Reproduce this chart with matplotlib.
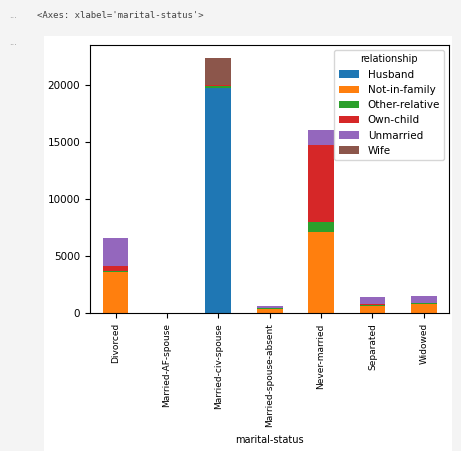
import pandas as pd
import matplotlib.pyplot as plt

statuses = ['Divorced', 'Married-AF-spouse', 'Married-civ-spouse', 'Married-spouse-absent',
            'Never-married', 'Separated', 'Widowed']
husband = [0, 14, 19716, 0, 0, 0, 0]
not_in_family = [3600, 0, 17, 380, 7100, 620, 850]
other_relative = [150, 1, 150, 60, 900, 100, 80]
own_child = [430, 1, 100, 60, 6750, 140, 20]
unmarried = [2450, 0, 0, 120, 1300, 590, 560]
wife = [0, 10, 2390, 0, 0, 0, 0]

df = pd.DataFrame({'Husband': husband, 'Not-in-family': not_in_family,
                   'Other-relative': other_relative, 'Own-child': own_child,
                   'Unmarried': unmarried, 'Wife': wife}, index=statuses)
df.index.name = 'marital-status'
df.columns.name = 'relationship'

fig = plt.figure(figsize=(4.61, 4.51), dpi=100)
fig.patch.set_facecolor('#f4f4f4')
fig.text(0.08, 0.965, "<Axes: xlabel='marital-status'>", family='DejaVu Sans Mono',
         fontsize=6.5, color='#444444', va='center')
fig.text(0.02, 0.965, '...', fontsize=6, color='#888888', va='center')
fig.text(0.02, 0.905, '...', fontsize=6, color='#888888', va='center')
# white output panel
panel = fig.add_axes([0.095, 0.0, 0.885, 0.92])
panel.set_facecolor('white')
panel.set_xticks([]); panel.set_yticks([])
for s in panel.spines.values():
    s.set_visible(False)

ax = fig.add_axes([0.195, 0.305, 0.78, 0.595])
df.plot(kind='bar', stacked=True, ax=ax)
ax.set_ylim(0, 23500)
ax.tick_params(axis='y', labelsize=7.5)
ax.tick_params(axis='x', labelsize=6.5)
ax.set_xlabel('marital-status', fontsize=7, labelpad=6)
ax.legend(title='relationship', fontsize=7.5, title_fontsize=7, loc='upper right')
fig.savefig('out.png', dpi=100)
